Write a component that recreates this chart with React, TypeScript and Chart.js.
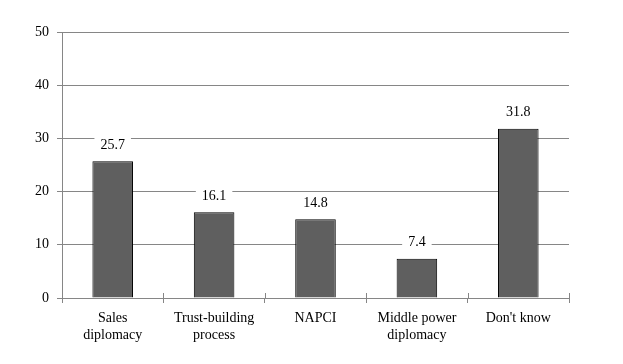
import React, { useEffect, useRef } from "react";
import { Chart, registerables } from "chart.js";

Chart.register(...registerables);

const categories: (string | string[])[] = [
  ["Sales", "diplomacy"],
  ["Trust-building", "process"],
  "NAPCI",
  ["Middle power", "diplomacy"],
  "Don't know",
];
const values = [25.7, 16.1, 14.8, 7.4, 31.8];
const yTicks = [0, 10, 20, 30, 40, 50];

const FONT = '"Liberation Serif", "Times New Roman", serif';
const GRID = "#868686";

const labelPlugin = {
  id: "valueLabels",
  afterDatasetsDraw(chart: any) {
    const ctx = chart.ctx;
    const meta = chart.getDatasetMeta(0);
    ctx.save();
    ctx.font = `14px ${FONT}`;
    ctx.textAlign = "center";
    ctx.textBaseline = "middle";
    meta.data.forEach((bar: any, i: number) => {
      const text = values[i].toFixed(1);
      const w = ctx.measureText(text).width + 12;
      const cx = bar.x;
      const cy = bar.y - 17;
      ctx.fillStyle = "#ffffff";
      ctx.fillRect(cx - w / 2, cy - 8, w, 16);
      ctx.fillStyle = "#000000";
      ctx.fillText(text, cx, cy + 1);
    });
    const xs = chart.scales.x;
    const bottom = chart.chartArea.bottom;
    ctx.strokeStyle = GRID;
    ctx.lineWidth = 1;
    for (let i = 0; i <= values.length; i++) {
      const px = Math.round(xs.getPixelForValue(i - 0.5)) + 0.5;
      ctx.beginPath();
      ctx.moveTo(px, bottom - 5);
      ctx.lineTo(px, bottom);
      ctx.stroke();
    }
    ctx.restore();
  },
};

export default function App() {
  const ref = useRef<HTMLCanvasElement>(null);
  useEffect(() => {
    const canvas = ref.current;
    if (!canvas) return;
    document.body.style.margin = "0";
    // software-backed 2D context; Chart.js reuses it
    const ctx2d = canvas.getContext("2d", { willReadFrequently: true } as any);
    Chart.defaults.font.family = FONT;
    Chart.defaults.font.size = 14;
    const chart = new Chart(ctx2d as any, {
      type: "bar",
      data: {
        labels: categories,
        datasets: [
          {
            data: values,
            backgroundColor: "#5f5f5f",
            borderColor: "#000000",
            borderWidth: 1,
            barPercentage: 0.4,
            categoryPercentage: 1,
          },
        ],
      },
      options: {
        animation: false,
        responsive: false,
        layout: { padding: { left: 0, right: 54, top: 32, bottom: 0 } },
        plugins: { legend: { display: false }, tooltip: { enabled: false } },
        scales: {
          x: {
            offset: true,
            grid: {
              offset: true,
              drawOnChartArea: false,
              drawTicks: true,
              tickLength: 5,
              color: GRID,
            },
            border: { color: GRID },
            ticks: {
              color: "#000",
              font: { family: FONT, size: 14 },
              padding: 7,
              maxRotation: 0,
              autoSkip: false,
            },
            afterFit(scale: any) {
              scale.height = 66;
            },
          },
          y: {
            min: 0,
            max: 50,
            afterBuildTicks(scale: any) {
              scale.ticks = yTicks.map((v) => ({ value: v }));
            },
            grid: { color: GRID, tickLength: 5 },
            border: { color: GRID },
            ticks: {
              color: "#000",
              font: { family: FONT, size: 14 },
              padding: 8,
            },
            afterFit(scale: any) {
              scale.width = 62;
            },
          },
        },
      },
      plugins: [labelPlugin],
    });
    return () => chart.destroy();
  }, []);
  return <canvas ref={ref} width={623} height={364} style={{ display: "block" }} />;
}
